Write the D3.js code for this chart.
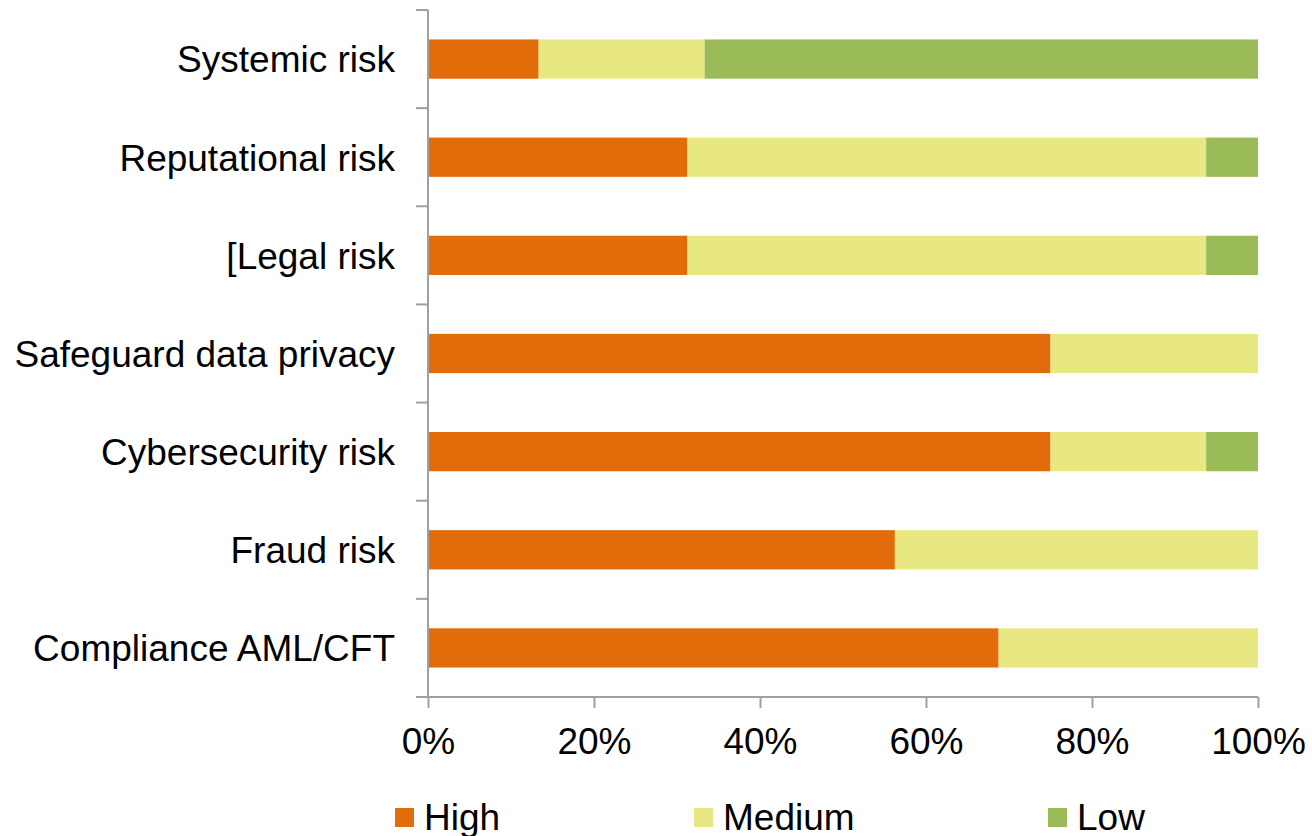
<!DOCTYPE html>
<html><head><meta charset="utf-8">
<script src="https://cdn.jsdelivr.net/npm/d3@7"></script>
<style>body{margin:0;background:#fff;} text{font-family:"Liberation Sans",Arial,sans-serif;fill:#000;}</style>
</head><body>
<svg id="chart" width="1312" height="836"></svg>
<script>
const categories = ["Systemic risk","Reputational risk","[Legal risk","Safeguard data privacy","Cybersecurity risk","Fraud risk","Compliance AML/CFT"];
const seriesNames = ["High","Medium","Low"];
const high   = [13.33, 31.25, 31.25, 75, 75, 56.25, 68.75];
const medium = [20.0, 62.5, 62.5, 25, 18.75, 43.75, 31.25];
const low    = [66.67, 6.25, 6.25, 0, 6.25, 0, 0];
const xTicks = [0, 20, 40, 60, 80, 100];
const colors = ["#E36C0A", "#E8E883", "#9BBB59"];

(function(){
const svg = d3.select("#chart");
const mLeft = 428, mRight = 1258, mTop = 10, mBottom = 697;

const rows = categories.map((c, i) => ({cat: c, High: high[i], Medium: medium[i], Low: low[i]}));
const stack = d3.stack().keys(seriesNames)(rows);

const x = d3.scaleLinear().domain([0, 100]).range([mLeft, mRight]);
const y = d3.scaleBand().domain(categories).range([mTop, mBottom]).paddingInner(0.6).paddingOuter(0.3);
const color = d3.scaleOrdinal().domain(seriesNames).range(colors);

// bars
svg.append("g").selectAll("g").data(stack).join("g")
  .attr("fill", d => color(d.key))
  .selectAll("rect").data(d => d).join("rect")
  .attr("x", d => x(d[0]))
  .attr("width", d => Math.max(0, x(d[1]) - x(d[0])))
  .attr("y", d => y(d.data.cat))
  .attr("height", y.bandwidth());

const axisColor = "#A0A0A0";
// y axis
const ya = svg.append("g");
ya.append("line").attr("x1", mLeft).attr("x2", mLeft).attr("y1", mTop).attr("y2", mBottom)
  .attr("stroke", axisColor).attr("stroke-width", 2);
const step = y.step();
d3.range(categories.length + 1).forEach(i => {
  const yy = mTop + i * step;
  ya.append("line").attr("x1", mLeft - 12).attr("x2", mLeft).attr("y1", yy).attr("y2", yy)
    .attr("stroke", axisColor).attr("stroke-width", 2);
});
ya.selectAll("text.cat").data(categories).join("text")
  .attr("class", "cat")
  .attr("x", 395)
  .attr("y", d => y(d) + y.bandwidth() / 2)
  .attr("dy", "0.36em")
  .attr("text-anchor", "end")
  .style("font-size", "37px")
  .text(d => d);

// x axis
const xa = svg.append("g").attr("transform", `translate(0,${mBottom})`)
  .call(d3.axisBottom(x).tickValues(xTicks).tickFormat(d => d + "%").tickSize(11).tickPadding(20));
xa.select(".domain").attr("stroke", axisColor).attr("stroke-width", 2)
  .attr("d", `M${mLeft - 12},0H${mRight}`);
xa.selectAll(".tick line").attr("stroke", axisColor).attr("stroke-width", 2);
xa.selectAll(".tick text").style("font-size", "37px").style("font-family", "'Liberation Sans',Arial,sans-serif").attr("fill", "#000");

// legend
const legendX = [395, 694, 1048];
const lg = svg.append("g");
seriesNames.forEach((s, i) => {
  lg.append("rect").attr("x", legendX[i]).attr("y", 808).attr("width", 19).attr("height", 19).attr("fill", color(s));
  lg.append("text").attr("x", legendX[i] + 29).attr("y", 830).style("font-size", "37px").text(s);
});
})();
</script>
</body></html>
